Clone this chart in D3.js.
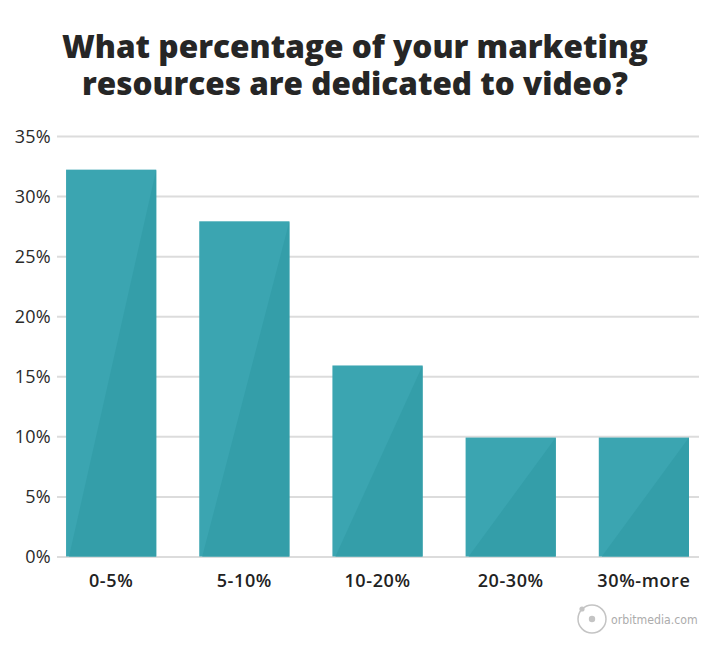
<!DOCTYPE html>
<html>
<head>
<meta charset="utf-8">
<script src="https://cdn.jsdelivr.net/npm/d3@7"></script>
<style>
  html, body { margin: 0; padding: 0; background: #fff; }
  svg { display: block; }
</style>
</head>
<body>
<svg id="chart" width="710" height="658"></svg>
<script>
const titleLines = ["What percentage of your marketing", "resources are dedicated to video?"];
const categories = ["0-5%", "5-10%", "10-20%", "20-30%", "30%-more"];
const values = [32.2, 27.9, 15.9, 9.9, 9.9];
const yTicks = [0, 5, 10, 15, 20, 25, 30, 35];
const watermark = "orbitmedia.com";

const svg = d3.select("#chart");
const W = 710, H = 658;
const margin = { left: 57, right: 12, top: 136, bottom: 101.5 };

const x = d3.scaleBand()
  .domain(categories)
  .range([margin.left, W - margin.right])
  .paddingInner(0.323)
  .paddingOuter(0.068);

const y = d3.scaleLinear()
  .domain([0, 35])
  .range([H - margin.bottom, margin.top]);

// Title
const title = svg.append("g");
const titleY = [58, 95];
const titleLen = [586, 546];
titleLines.forEach((t, i) => {
  title.append("text")
    .attr("x", 355)
    .attr("y", titleY[i])
    .attr("text-anchor", "middle")
    .attr("textLength", titleLen[i])
    .attr("lengthAdjust", "spacingAndGlyphs")
    .style("font-family", "'Open Sans', 'DejaVu Sans', sans-serif")
    .style("font-weight", 800)
    .style("font-size", "31px")
    .style("fill", "#262626")
    .text(t);
});

// Gridlines + y labels via axis
const yAxis = d3.axisLeft(y)
  .tickValues(yTicks)
  .tickSize(-(W - margin.right + 1 - margin.left))
  .tickPadding(6)
  .tickFormat(d => d + "%");

const gy = svg.append("g")
  .attr("transform", `translate(${margin.left},0)`)
  .call(yAxis);
gy.select(".domain").remove();
gy.selectAll(".tick line")
  .attr("stroke", "#dcdcdc")
  .attr("stroke-width", 2);
gy.selectAll(".tick text")
  .attr("x", -6)
  .attr("dy", "0.36em")
  .style("font-family", "'Open Sans', 'DejaVu Sans', sans-serif")
  .style("font-weight", 500)
  .style("font-size", "18px")
  .style("letter-spacing", "0.3px")
  .style("fill", "#2a2a2a");

// Bars
const bars = svg.append("g");
categories.forEach((c, i) => {
  const x0 = x(c), bw = x.bandwidth();
  const top = y(values[i]), bot = y(0);
  bars.append("rect")
    .attr("x", x0).attr("y", top)
    .attr("width", bw).attr("height", bot - top)
    .attr("fill", "#3ba5b1");
  bars.append("path")
    .attr("d", `M${x0 + bw},${top} L${x0 + bw},${bot} L${x0 + 3},${bot} Z`)
    .attr("fill", "#349ea9");
});

// X labels via axis
const xAxis = d3.axisBottom(x).tickSize(0).tickPadding(0);
const gx = svg.append("g")
  .attr("transform", `translate(0,${y(0)})`)
  .call(xAxis);
gx.select(".domain").remove();
gx.selectAll(".tick text")
  .attr("y", 30)
  .attr("dy", 0)
  .style("font-family", "'Open Sans', 'DejaVu Sans', sans-serif")
  .style("font-weight", 600)
  .style("font-size", "18px")
  .style("letter-spacing", "0.6px")
  .style("fill", "#222");

// Watermark logo
const logo = svg.append("g");
logo.append("circle").attr("cx", 592).attr("cy", 619).attr("r", 14)
  .attr("fill", "none").attr("stroke", "#c4c4c4").attr("stroke-width", 1.5);
logo.append("circle").attr("cx", 592).attr("cy", 619).attr("r", 3.2).attr("fill", "#c4c4c4");
logo.append("circle").attr("cx", 582).attr("cy", 609).attr("r", 2.6).attr("fill", "#c4c4c4");
logo.append("text")
  .attr("x", 611).attr("y", 624)
  .style("font-family", "'DejaVu Sans', sans-serif")
  .style("font-stretch", "condensed")
  .style("font-size", "12.2px")
  .style("fill", "#acacac")
  .text(watermark);
</script>
</body>
</html>
